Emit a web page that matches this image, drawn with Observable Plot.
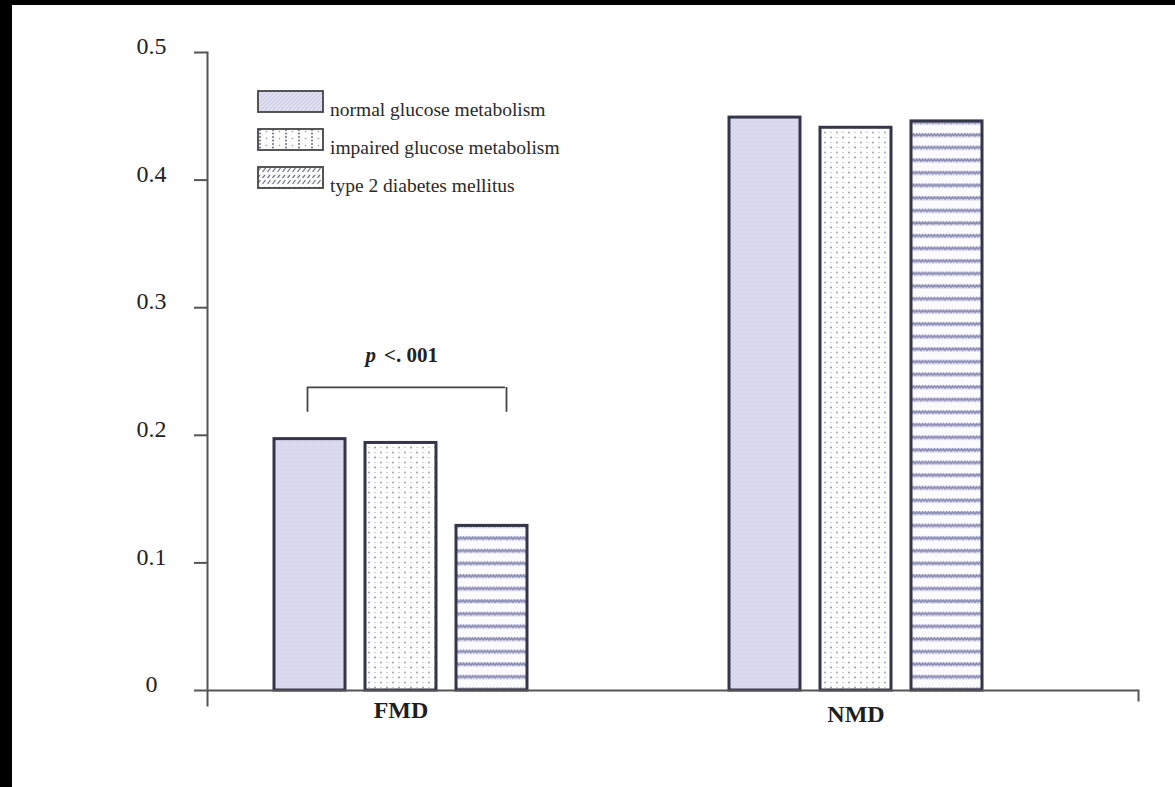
<!DOCTYPE html>
<html>
<head>
<meta charset="utf-8">
<script src="https://cdn.jsdelivr.net/npm/d3@7"></script>
<script src="https://cdn.jsdelivr.net/npm/@observablehq/plot@0.6"></script>
<style>
  html, body { margin: 0; padding: 0; background: #fff; }
  #frame {
    position: relative;
    width: 1163px; height: 782px;
    border-top: 5px solid #000;
    border-left: 12px solid #000;
    background: #fff;
    overflow: hidden;
  }
  #defs { position: absolute; width: 0; height: 0; }
  #legend {
    position: absolute; left: 0; top: 0;
    font-family: "Liberation Serif", "Times New Roman", serif;
    font-size: 19.5px; color: #2a2a2a;
  }
  .lg-row { position: absolute; left: 245px; height: 22px; white-space: nowrap; }
  .lg-row svg { position: absolute; left: 0; top: 0; }
  .lg-row span { position: absolute; left: 73px; bottom: -7px; line-height: 1; }
</style>
</head>
<body>
<div id="frame">
  <svg id="defs" aria-hidden="true">
    <defs>
      <!-- lavender fine-dot texture -->
      <pattern id="pat-normal" width="4" height="4" patternUnits="userSpaceOnUse">
        <rect width="4" height="4" fill="#dcdcf0"/>
        <circle cx="1" cy="1" r="0.6" fill="#b9b9d6"/>
        <circle cx="3" cy="3" r="0.6" fill="#c6c6df"/>
      </pattern>
      <!-- sparse grey dots on white -->
      <pattern id="pat-impaired" width="12" height="10" patternUnits="userSpaceOnUse">
        <rect width="12" height="10" fill="#fdfdfd"/>
        <circle cx="3" cy="2.5" r="0.9" fill="#8a8a96"/>
        <circle cx="9" cy="7.5" r="0.9" fill="#9a9aa6"/>
        <rect x="8" y="2.2" width="2" height="0.7" fill="#b8b8c2"/>
        <rect x="2" y="7.2" width="2" height="0.7" fill="#b8b8c2"/>
      </pattern>
      <!-- horizontal wavy stripes -->
      <pattern id="pat-diabetes" width="6" height="12.6" patternUnits="userSpaceOnUse">
        <rect width="6" height="12.6" fill="#fbfbfe"/>
        <rect y="2" width="6" height="4.5" fill="#d8d8ec"/>
        <path d="M0,5 L1.5,3 L3,5 L4.5,3 L6,5" fill="none" stroke="#8a8ab2" stroke-width="1.5"/>
      </pattern>
      <!-- legend swatch textures -->
      <pattern id="lg-normal" width="4" height="4" patternUnits="userSpaceOnUse">
        <rect width="4" height="4" fill="#dedff2"/>
        <path d="M0,4 L4,0" stroke="#c2c2dc" stroke-width="0.8"/>
      </pattern>
      <pattern id="lg-impaired" width="13" height="7" patternUnits="userSpaceOnUse">
        <rect width="13" height="7" fill="#fdfdfd"/>
        <circle cx="3" cy="2" r="1" fill="#6e6e7a"/>
        <circle cx="3" cy="5.5" r="1" fill="#6e6e7a"/>
        <circle cx="9.5" cy="3.5" r="0.8" fill="#9a9aa6"/>
      </pattern>
      <pattern id="lg-diabetes" width="5" height="12" patternUnits="userSpaceOnUse">
        <rect width="5" height="12" fill="#fdfdfd"/>
        <path d="M0.5,6 L3.5,2" stroke="#6e6e86" stroke-width="1.2"/>
        <path d="M0.5,12 L3,9" stroke="#6e6e86" stroke-width="1.2"/>
      </pattern>
    </defs>
  </svg>
  <div id="chart"></div>
  <div id="legend"></div>
</div>
<script>
// Flow-mediated (FMD) and nitroglycerin-mediated (NMD) dilation by glucose tolerance status
const groups = ["FMD", "NMD"];
const seriesKeys = ["normal", "impaired", "diabetes"];
const seriesNames = ["normal glucose metabolism", "impaired glucose metabolism", "type 2 diabetes mellitus"];
const fmdValues = [0.197, 0.194, 0.129];
const nmdValues = [0.449, 0.441, 0.446];
const yTicks = [0, 0.1, 0.2, 0.3, 0.4, 0.5];
const yTickLabels = ["0", "0.1", "0.2", "0.3", "0.4", "0.5"];

// significance bracket over the FMD group
const bracketGroup = "FMD";
const bracketFrom = "normal";
const bracketTo = "diabetes";
const bracketTop = 0.2375;
const bracketFoot = 0.218;
const pLabelY = 0.2625;
const pSymbol = "p";
const pRest = "<. 001";

const valuesByGroup = {FMD: fmdValues, NMD: nmdValues};
const slotOf = (g, k) => `${g} ${k}`;
const rows = groups.flatMap(g => seriesKeys.map((k, i) => ({group: g, key: k, slot: slotOf(g, k), value: valuesByGroup[g][i]})));

// one empty pair of slots separates the two groups
const slots = [
  ...seriesKeys.map(k => slotOf("FMD", k)), "gap 1", "gap 2",
  ...seriesKeys.map(k => slotOf("NMD", k))
];

const axisColor = "#555";
const barStroke = "#35354a";
const serif = "'Liberation Serif', 'Times New Roman', serif";

const groupLabel = (g, dy) => Plot.text([g], {
  x: d => slotOf(d, "impaired"), y: () => 0, text: d => d,
  lineAnchor: "top", dy, fontSize: 24, fontWeight: "bold", fill: "#1e1e1e"
});

const chart = Plot.plot({
  width: 1163,
  height: 782,
  marginLeft: 195,
  marginRight: 37,
  marginTop: 47,
  marginBottom: 97,
  style: {fontFamily: serif, color: "#222", background: "transparent", overflow: "visible"},
  x: {type: "band", domain: slots, paddingInner: 0.22, paddingOuter: 1.225, align: 0.3, axis: null},
  y: {domain: [0, 0.5], axis: null},
  marks: [
    ...seriesKeys.map(k => Plot.barY(rows.filter(d => d.key === k), {
      x: "slot", y: "value", fill: `url(#pat-${k})`, stroke: barStroke, strokeWidth: 3
    })),
    // axis lines
    Plot.frame({anchor: "left", stroke: axisColor, strokeWidth: 2, insetBottom: -15}),
    Plot.ruleY([0], {stroke: axisColor, strokeWidth: 2}),
    Plot.frame({anchor: "right", stroke: axisColor, strokeWidth: 2, insetTop: 638, insetBottom: -10}),
    // y tick marks, then their labels sitting slightly above each tick
    Plot.axisY({
      ticks: yTicks, tickFormat: () => "", label: null,
      tickSize: 13, stroke: axisColor, strokeWidth: 2
    }),
    Plot.axisY({
      ticks: yTicks, tickFormat: (d, i) => yTickLabels[i], label: null,
      tickSize: 0, tickPadding: 56, textAnchor: "middle",
      fontSize: 24, dy: -6, fill: "#222"
    }),
    // group labels under the axis
    groupLabel("FMD", 10),
    groupLabel("NMD", 14),
    // significance bracket
    Plot.ruleY([bracketTop], {
      x1: () => slotOf(bracketGroup, bracketFrom), x2: () => slotOf(bracketGroup, bracketTo), y: d => d,
      insetLeft: 33, insetRight: 22, stroke: "#444", strokeWidth: 1.8
    }),
    Plot.ruleX([slotOf(bracketGroup, bracketFrom)], {y1: bracketFoot, y2: bracketTop, dx: -2.5, stroke: "#444", strokeWidth: 1.8}),
    Plot.ruleX([slotOf(bracketGroup, bracketTo)], {y1: bracketFoot, y2: bracketTop, dx: 14.5, stroke: "#444", strokeWidth: 1.8}),
    Plot.text([pSymbol], {
      x: () => slotOf(bracketGroup, "impaired"), y: () => pLabelY, text: d => d,
      textAnchor: "end", dx: -25, fontSize: 21, fontWeight: "bold", fontStyle: "italic", fill: "#222"
    }),
    Plot.text([pRest], {
      x: () => slotOf(bracketGroup, "impaired"), y: () => pLabelY, text: d => d,
      textAnchor: "start", dx: -17, fontSize: 21, fontWeight: "bold", fill: "#222",
      style: {letterSpacing: "1.5px"}
    })
  ]
});
document.getElementById("chart").append(chart);

// legend inside the upper-left of the plot area
const legendTops = [85, 123, 161];
const legend = d3.select("#legend");
seriesKeys.forEach((k, i) => {
  const row = legend.append("div").attr("class", "lg-row").style("top", legendTops[i] + "px");
  const sw = row.append("svg").attr("width", 68).attr("height", 24);
  sw.append("rect").attr("x", 1).attr("y", 1).attr("width", 65).attr("height", 21)
    .attr("fill", `url(#lg-${k})`).attr("stroke", "#444").attr("stroke-width", 1.8);
  row.append("span").text(seriesNames[i]);
});
</script>
</body>
</html>
